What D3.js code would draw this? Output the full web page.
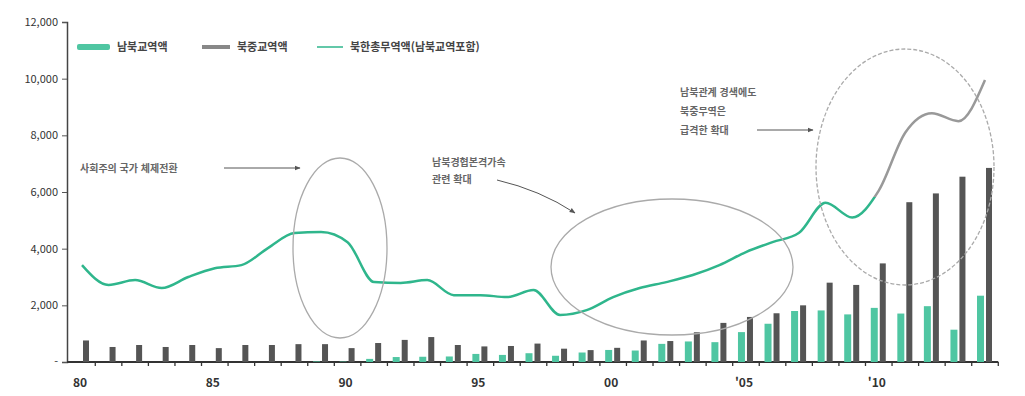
<!DOCTYPE html>
<html lang="ko">
<head>
<meta charset="UTF-8">
<title>북한 무역</title>
<script src="https://d3js.org/d3.v7.min.js"></script>
<style>
  body { margin: 0; background: #fff; }
  svg text { font-family: "Noto Sans CJK KR", "Noto Sans", sans-serif; }
</style>
</head>
<body>
<div class="canvas"></div>
<script>
  // 데이터 (백만 달러)
  const years = d3.range(1980, 2015);
  // 남북교역액 (1989년부터)
  const interKorean = [null, null, null, null, null, null, null, null, null,
    20, 15, 110, 175, 185, 195, 285, 250, 310, 220, 335,
    425, 405, 640, 725, 700, 1055, 1350, 1800, 1820, 1680,
    1910, 1710, 1970, 1140, 2340];
  // 북중교역액
  const chinaTrade = [760, 530, 600, 530, 600, 490, 600, 600, 630, 630,
    490, 670, 780, 880, 600, 550, 565, 650, 470, 420,
    500, 760, 740, 1050, 1380, 1590, 1720, 2000, 2800, 2720,
    3480, 5640, 5950, 6540, 6850];
  // 북한총무역액(남북교역포함)
  const totalTrade = [3420, 2720, 2890, 2610, 3000, 3310, 3420, 4020, 4550, 4590,
    4230, 2820, 2790, 2890, 2360, 2360, 2290, 2540, 1660, 1830,
    2290, 2610, 2820, 3070, 3420, 3880, 4230, 4560, 5620, 5100,
    6050, 8100, 8780, 8500, 9950];
  const yTicks = [0, 2000, 4000, 6000, 8000, 10000, 12000];
  const xLabels = {1980: '80', 1985: '85', 1990: '90', 1995: '95', 2000: '00', 2005: "'05", 2010: "'10"};
  const legendItems = ['남북교역액', '북중교역액', '북한총무역액(남북교역포함)'];

  const width = 1025, height = 396;
  const GREEN = '#2fb68c', BAR_GREEN = '#4fc6a2', GRAY = '#555';

  const svg = d3.select('.canvas').append('svg')
    .attr('width', width).attr('height', height);

  const x = d3.scaleLinear().domain([1980, 2014]).range([82, 985]);
  const y = d3.scaleLinear().domain([0, 12000]).range([362, 22]);

  // y축
  const yAxis = d3.axisLeft(y).tickValues(yTicks).tickSize(5).tickPadding(4)
    .tickFormat(d => d === 0 ? '-' : d3.format(',')(d));
  const yG = svg.append('g').attr('transform', 'translate(67,0)').call(yAxis);
  yG.select('.domain').attr('stroke', '#444').attr('stroke-width', 1.5);
  yG.selectAll('.tick line').attr('stroke', '#555');
  yG.selectAll('.tick text').attr('fill', '#333').style('font-size', '11px');

  // x축
  const halfYears = d3.range(1980.5, 2015, 1);
  const xG = svg.append('g').attr('transform', `translate(0,${y(0)})`);
  xG.append('line').attr('x1', 67).attr('x2', x(2014.5)).attr('stroke', '#333').attr('stroke-width', 1.8);
  xG.selectAll('.xt').data(halfYears).enter().append('line')
    .attr('x1', d => x(d)).attr('x2', d => x(d)).attr('y1', 0).attr('y2', 4)
    .attr('stroke', '#333').attr('stroke-width', 1.3);
  xG.selectAll('.xl').data(Object.keys(xLabels)).enter().append('text')
    .attr('x', d => x(+d) - 2).attr('y', 25).attr('text-anchor', 'middle')
    .attr('fill', '#333').style('font-size', '12px').style('font-weight', 'bold')
    .text(d => xLabels[d]);

  // 막대
  svg.selectAll('.bg').data(years.filter((d, i) => interKorean[i] != null)).enter().append('rect')
    .attr('x', d => x(d) - 8).attr('width', 7)
    .attr('y', d => y(interKorean[d - 1980]))
    .attr('height', d => y(0) - y(interKorean[d - 1980]))
    .attr('fill', BAR_GREEN);
  svg.selectAll('.bc').data(years).enter().append('rect')
    .attr('x', d => x(d) + 1).attr('width', 6)
    .attr('y', (d, i) => y(chinaTrade[i]))
    .attr('height', (d, i) => y(0) - y(chinaTrade[i]))
    .attr('fill', GRAY);

  // 선
  const line = d3.line().x((d, i) => x(years[i])).y(d => y(d)).curve(d3.curveMonotoneX);
  const defs = svg.append('defs');
  defs.append('clipPath').attr('id', 'lower').append('rect')
    .attr('x', 0).attr('y', 197).attr('width', width).attr('height', height);
  defs.append('clipPath').attr('id', 'upper').append('rect')
    .attr('x', 0).attr('y', 0).attr('width', width).attr('height', 197);
  svg.append('path').attr('d', line(totalTrade)).attr('fill', 'none')
    .attr('stroke', GREEN).attr('stroke-width', 2.5).attr('clip-path', 'url(#lower)');
  svg.append('path').attr('d', line(totalTrade)).attr('fill', 'none')
    .attr('stroke', '#999').attr('stroke-width', 2.5).attr('clip-path', 'url(#upper)');

  // 범례
  const lg = svg.append('g').attr('transform', 'translate(0,47)');
  lg.append('rect').attr('x', 77).attr('y', -3).attr('width', 33).attr('height', 6).attr('fill', BAR_GREEN).attr('rx', 2);
  lg.append('rect').attr('x', 202).attr('y', -2).attr('width', 28).attr('height', 4).attr('fill', '#888');
  lg.append('line').attr('x1', 317).attr('x2', 343).attr('stroke', GREEN).attr('stroke-width', 1.5);
  [117, 237, 350].forEach((lx, i) => {
    lg.append('text').attr('x', lx).attr('y', 4).attr('fill', '#444')
      .style('font-size', '11px').style('font-weight', 'bold').text(legendItems[i]);
  });

  // 주석
  svg.append('defs').append('marker').attr('id', 'arr').attr('viewBox', '0 0 10 10')
    .attr('refX', 9).attr('refY', 5).attr('markerWidth', 6).attr('markerHeight', 6).attr('orient', 'auto')
    .append('path').attr('d', 'M0,1 L10,5 L0,9 Z').attr('fill', '#555');

  const ell = [
    {cx: 340, cy: 248, rx: 47, ry: 90, dash: null},
    {cx: 672, cy: 267, rx: 121, ry: 68, dash: null},
    {cx: 905, cy: 167, rx: 89, ry: 118, dash: '4,2'}
  ];
  ell.forEach(e => {
    svg.append('ellipse').attr('cx', e.cx).attr('cy', e.cy).attr('rx', e.rx).attr('ry', e.ry)
      .attr('fill', 'none').attr('stroke', '#aaa').attr('stroke-width', 1.3)
      .attr('stroke-dasharray', e.dash);
  });

  const note = (lines, tx, ty, lh) => {
    lines.forEach((t, i) => svg.append('text').attr('x', tx).attr('y', ty + i * lh)
      .attr('fill', '#666').style('font-size', '10px').style('font-weight', 'bold').text(t));
  };
  note(['사회주의 국가 체제전환'], 80, 172, 0);
  svg.append('line').attr('x1', 224).attr('y1', 168).attr('x2', 300).attr('y2', 168)
    .attr('stroke', '#555').attr('stroke-width', 1).attr('marker-end', 'url(#arr)');

  note(['남북경협본격가속', '관련 확대'], 432, 166, 17);
  svg.append('path').attr('d', 'M497,180 Q540,190 575,213').attr('fill', 'none')
    .attr('stroke', '#555').attr('stroke-width', 1).attr('marker-end', 'url(#arr)');

  note(['남북관계 경색에도', '북중무역은', '급격한 확대'], 680, 96, 19);
  svg.append('line').attr('x1', 757).attr('y1', 130).attr('x2', 813).attr('y2', 130)
    .attr('stroke', '#555').attr('stroke-width', 1).attr('marker-end', 'url(#arr)');
</script>
</body>
</html>
